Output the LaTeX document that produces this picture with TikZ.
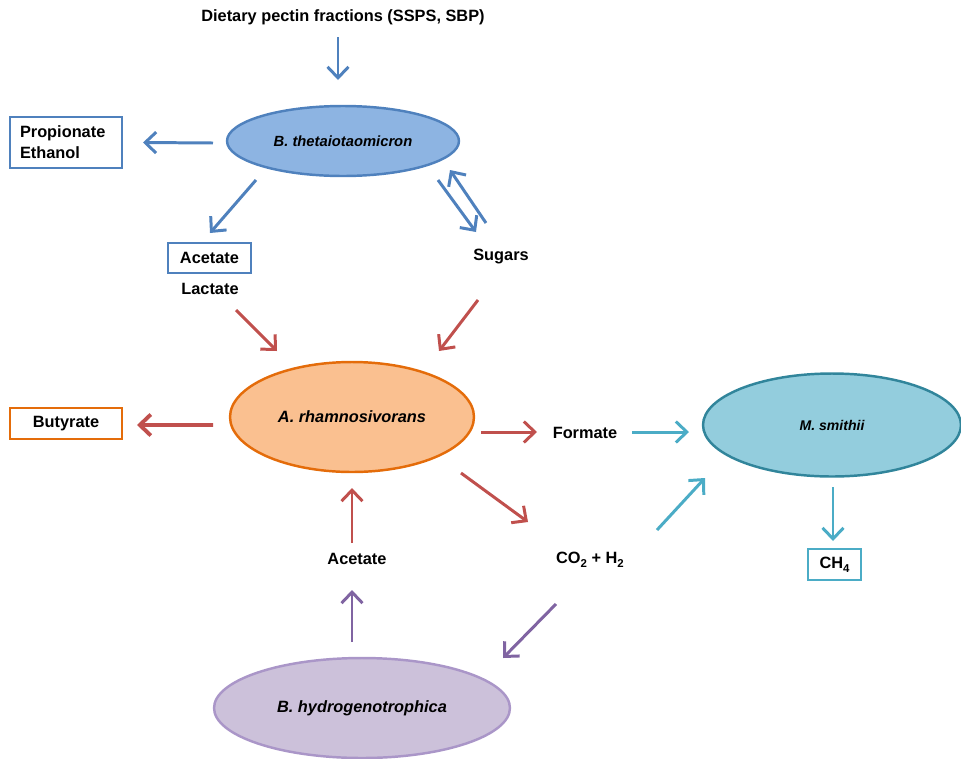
\documentclass[tikz,border=0pt]{standalone}
\usepackage{fontspec}
\setmainfont{Liberation Sans}
\usetikzlibrary{shapes.geometric,arrows.meta}

\definecolor{thetafill}{RGB}{141,180,226}
\definecolor{thetaline}{RGB}{79,129,189}
\definecolor{rhamfill}{RGB}{250,192,144}
\definecolor{rhamline}{RGB}{228,108,10}
\definecolor{smitfill}{RGB}{147,205,221}
\definecolor{smitline}{RGB}{49,133,155}
\definecolor{hydrfill}{RGB}{204,193,218}
\definecolor{hydrline}{RGB}{170,150,200}
\definecolor{bluearr}{RGB}{79,129,189}
\definecolor{redarr}{RGB}{192,80,77}
\definecolor{tealarr}{RGB}{75,172,198}
\definecolor{purparr}{RGB}{128,100,162}

\newcommand{\lowsub}[1]{\raisebox{-0.45ex}{\fontsize{6.5}{7}\selectfont #1}}

\begin{document}
\begin{tikzpicture}[x=0.02cm,y=-0.02cm,
    lbl/.style={font=\fontsize{9.3}{11.9}\selectfont\bfseries},
    bug/.style={ellipse,line width=1.4pt,inner sep=0pt,font=\fontsize{9.3}{11}\selectfont\bfseries\itshape},
    prod/.style={draw,line width=0.7pt,inner sep=0pt,lbl},
    flow/.style={line width=1.7pt,-{Straight Barb[length=2.2mm,width=4.2mm]}}]

  \useasboundingbox (0,0) rectangle (961,758);

  % organisms
  \node[bug,fill=thetafill,draw=thetaline,minimum width=4.64cm,minimum height=1.4cm,
        font=\fontsize{8.4}{10}\selectfont\bfseries\itshape] (theta) at (343,141) {B. thetaiotaomicron};
  \node[bug,fill=rhamfill,draw=rhamline,minimum width=4.88cm,minimum height=2.2cm] (rham) at (352,417) {A. rhamnosivorans};
  \node[bug,fill=smitfill,draw=smitline,minimum width=5.16cm,minimum height=2.06cm,
        font=\fontsize{8}{10}\selectfont\bfseries\itshape] (smit) at (832,425) {M. smithii};
  \node[bug,fill=hydrfill,draw=hydrline,minimum width=5.92cm,minimum height=2cm] (hydr) at (362,708) {B. hydrogenotrophica};

  % products and intermediates
  \node[lbl] (diet) at (343,17) {Dietary pectin fractions (SSPS, SBP)};
  \node[prod,draw=thetaline,text width=1.84cm,inner xsep=0.2cm,align=left,minimum height=1.02cm] (prop) at (66,142.5) {Propionate\\Ethanol};
  \node[prod,draw=thetaline,minimum width=1.66cm,minimum height=0.6cm] (acet) at (209.5,258) {Acetate};
  \node[lbl] (lact) at (210,289) {Lactate};
  \node[lbl] (sugr) at (501,257) {Sugars};
  \node[prod,draw=rhamline,minimum width=2.24cm,minimum height=0.62cm] (buty) at (66,423.5) {Butyrate};
  \node[lbl] (form) at (585,433) {Formate};
  \node[lbl] (gas) at (590,560) {CO\lowsub{2} + H\lowsub{2}};
  \node[lbl] (acet2) at (357,559) {Acetate};
  \node[prod,draw=tealarr,minimum width=1.06cm,minimum height=0.62cm] (meth) at (834.5,564.5) {CH\lowsub{4}};

  % B. thetaiotaomicron
  \draw[flow,bluearr] ([shift={(-5,20)}]diet.center) -- ([shift={(-5,-61)}]theta.center);
  \draw[flow,bluearr] ([shift={(-130,2)}]theta.center) -- ([shift={(77,0)}]prop.center);
  \draw[flow,bluearr] ([shift={(-87,39)}]theta.center) -- ([shift={(0.5,-25)}]acet.center);
  \draw[flow,bluearr] ([shift={(95,39)}]theta.center) -- ([shift={(-25,-25)}]sugr.center);
  \draw[flow,bluearr] ([shift={(-15,-34)}]sugr.center) -- ([shift={(107,29)}]theta.center);

  % A. rhamnosivorans
  \draw[flow,redarr] ([shift={(26,21)}]lact.center) -- ([shift={(-75,-66)}]rham.center);
  \draw[flow,redarr] ([shift={(-23,43)}]sugr.center) -- ([shift={(87,-66)}]rham.center);
  \draw[flow,redarr,line width=2.2pt] ([shift={(-139,8)}]rham.center) -- ([shift={(71,1.5)}]buty.center);
  \draw[flow,redarr] ([shift={(129,15)}]rham.center) -- ([shift={(-48,-1)}]form.center);
  \draw[flow,redarr] ([shift={(109,56)}]rham.center) -- ([shift={(-62,-38)}]gas.center);
  \draw[flow,redarr] ([shift={(-5,-16)}]acet2.center) -- ([shift={(0,71)}]rham.center);

  % M. smithii
  \draw[flow,tealarr] ([shift={(47,-1)}]form.center) -- ([shift={(-143,7)}]smit.center);
  \draw[flow,tealarr] ([shift={(67,-30)}]gas.center) -- ([shift={(-127,53)}]smit.center);
  \draw[flow,tealarr] ([shift={(1,62)}]smit.center) -- ([shift={(-1.5,-23.5)}]meth.center);

  % B. hydrogenotrophica
  \draw[flow,purparr] ([shift={(-10,-66)}]hydr.center) -- ([shift={(-5,31)}]acet2.center);
  \draw[flow,purparr] ([shift={(-34,44)}]gas.center) -- ([shift={(141,-50)}]hydr.center);
\end{tikzpicture}
\end{document}
